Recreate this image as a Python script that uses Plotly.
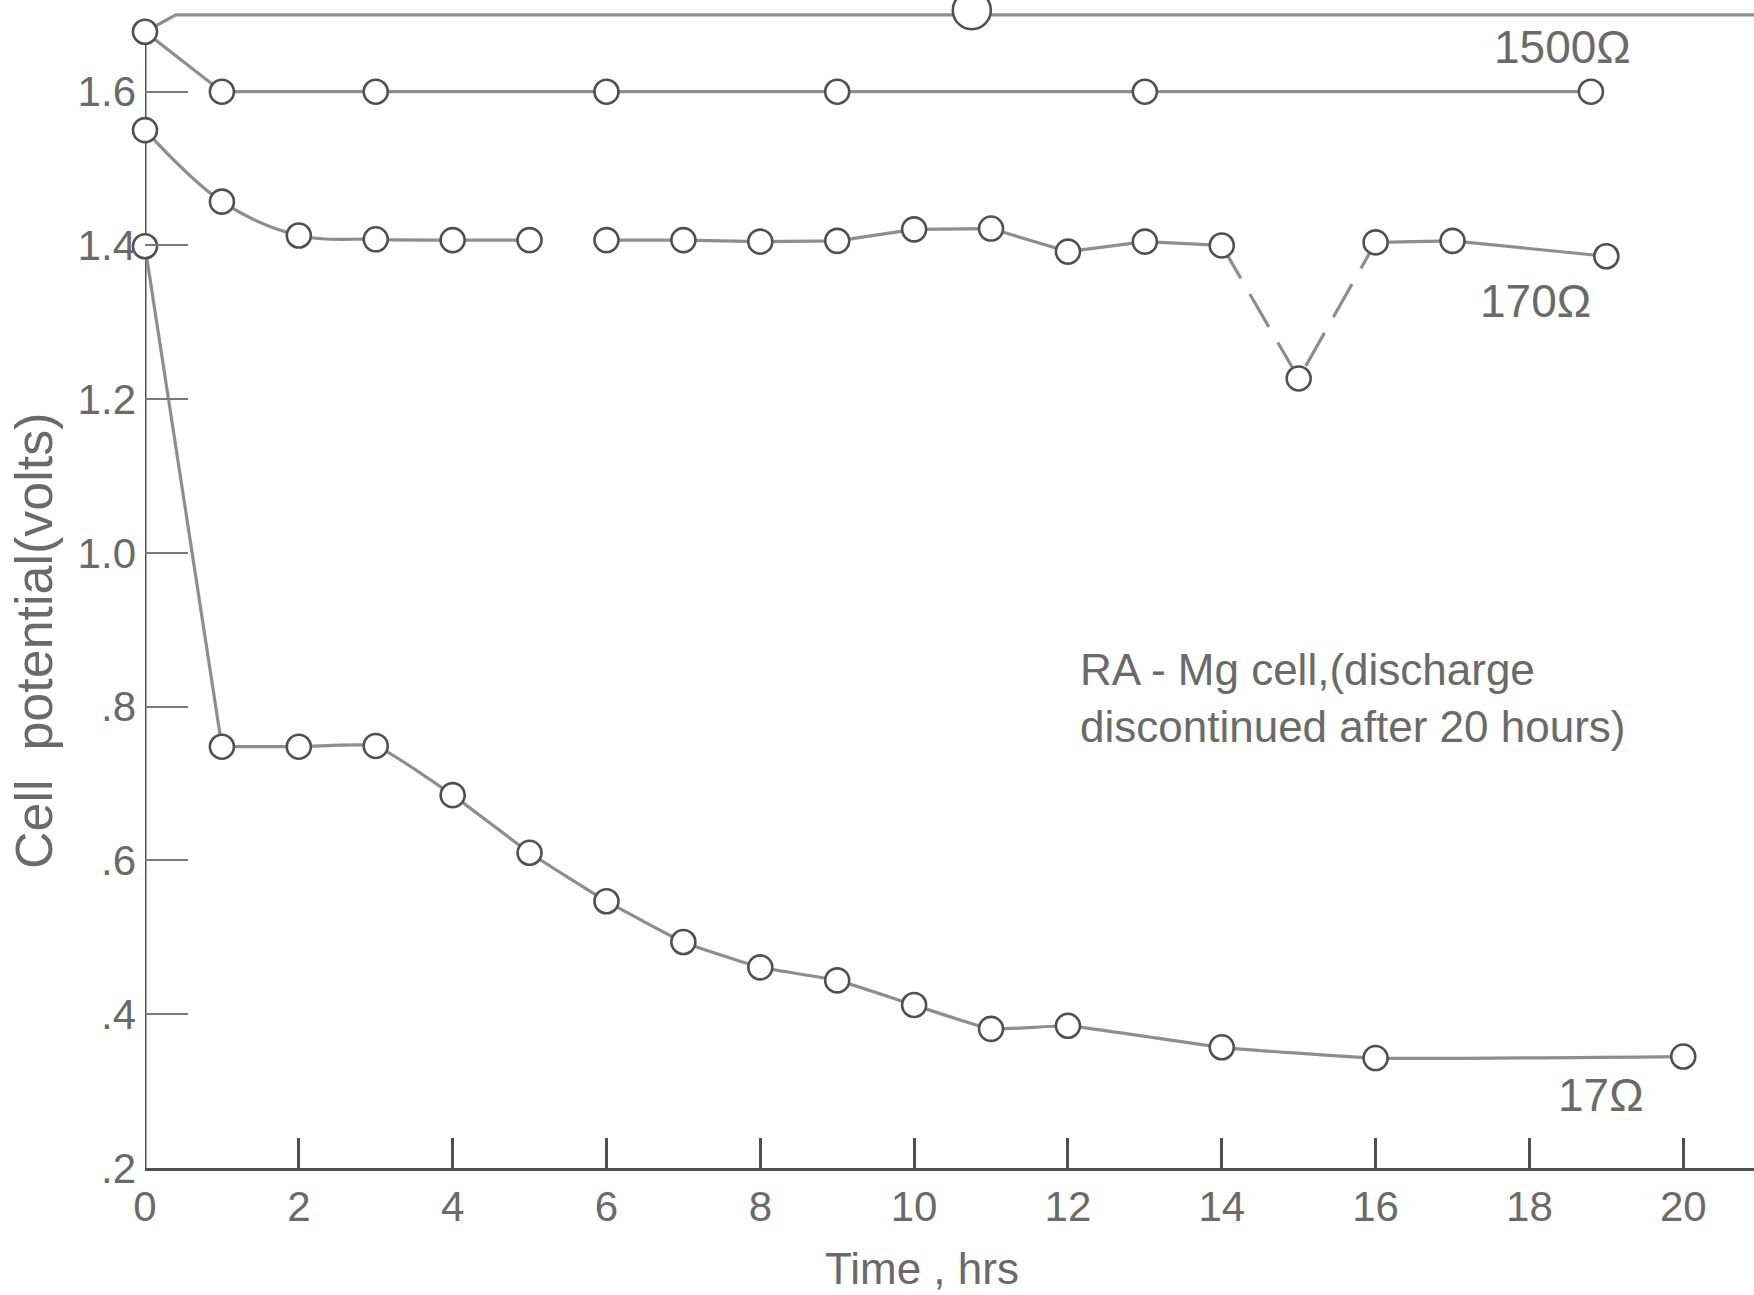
import plotly.graph_objects as go

# Discharge of an RA-Mg cell through three load resistances.
# Time in hours, cell potential in volts.
t_1500 = [0, 1, 3, 6, 9, 13, 18.8]
v_1500 = [1.678, 1.600, 1.600, 1.600, 1.600, 1.600, 1.600]

t_170 = [0, 1, 2, 3, 4, 5, 6, 7, 8, 9, 10, 11, 12, 13, 14, 15, 16, 17, 19]
v_170 = [1.550, 1.457, 1.413, 1.408, 1.407, 1.407, 1.407, 1.407, 1.405, 1.406,
         1.421, 1.422, 1.392, 1.405, 1.400, 1.227, 1.404, 1.406, 1.386]

t_17 = [0, 1, 2, 3, 4, 5, 6, 7, 8, 9, 10, 11, 12, 14, 16, 20]
v_17 = [1.399, 0.748, 0.748, 0.749, 0.685, 0.610, 0.547, 0.494, 0.461, 0.444,
        0.412, 0.381, 0.385, 0.357, 0.343, 0.345]

# trace running along the top edge, with its single plotted point
t_top = [0, 0.4, 21]
v_top = [1.678, 1.700, 1.700]
t_top_pt = [10.75]
v_top_pt = [1.706]

x_ticks = [0, 2, 4, 6, 8, 10, 12, 14, 16, 18, 20]
x_tick_text = ["0", "2", "4", "6", "8", "10", "12", "14", "16", "18", "20"]
y_ticks = [0.2, 0.4, 0.6, 0.8, 1.0, 1.2, 1.4, 1.6]
y_tick_text = [".2", ".4", ".6", ".8", "1.0", "1.2", "1.4", "1.6"]

FONT = "Liberation Sans, Arial, sans-serif"
TEXT = "#6a6a6a"
LINE = "#8e8e8e"
EDGE = "#505050"
X_MAX = 20.92
Y_MAX = 1.7193

fig = go.Figure()


def line(xs, ys, shape="linear", smoothing=1.0, dash="solid"):
    fig.add_trace(go.Scatter(
        x=xs, y=ys, mode="lines",
        line=dict(color=LINE, width=3.2, shape=shape, smoothing=smoothing, dash=dash),
        hoverinfo="skip", showlegend=False,
    ))


def points(xs, ys, size=24):
    fig.add_trace(go.Scatter(
        x=xs, y=ys, mode="markers", cliponaxis=False,
        marker=dict(symbol="circle", size=size, color="white",
                    line=dict(color=EDGE, width=2.6)),
        showlegend=False,
    ))


# top edge trace
line(t_top, v_top)
points(t_top_pt, v_top_pt, size=38)

# 1500 ohm
line(t_1500, v_1500)
points(t_1500, v_1500)

# 170 ohm: no line between 5 and 6 h, dashed through the dip at 15 h
line(t_170[0:6], v_170[0:6], shape="spline", smoothing=1.0)
line(t_170[6:15], v_170[6:15])
line(t_170[14:17], v_170[14:17], dash="38px,18px")
line(t_170[16:], v_170[16:])
points(t_170, v_170)

# 17 ohm
line(t_17[0:2], v_17[0:2])
line(t_17[1:], v_17[1:], shape="spline", smoothing=0.4)
points(t_17, v_17)

# vertical axis line, from the baseline up to the first 1500 ohm reading
fig.add_shape(type="line", xref="x", yref="y", x0=0, x1=0,
              y0=y_ticks[0], y1=v_1500[0],
              line=dict(color=EDGE, width=3), layer="below")

# curve labels
for txt, lx, ly in [("1500\u03a9", 18.43, 1.658),
                    ("170\u03a9", 18.08, 1.328),
                    ("17\u03a9", 18.93, 0.2945)]:
    fig.add_annotation(x=lx, y=ly, text=txt, showarrow=False,
                       xanchor="center", yanchor="middle",
                       font=dict(family=FONT, size=46, color=TEXT))

fig.add_annotation(
    x=12.13, y=0.812, xanchor="left", yanchor="middle", align="left",
    text="RA - Mg cell,(discharge<br>discontinued after 20 hours)",
    showarrow=False, font=dict(family=FONT, size=44, color=TEXT),
)

# axis titles
fig.add_annotation(x=10.1, y=-0.086, xref="x", yref="paper",
                   text="Time , hrs", showarrow=False,
                   xanchor="center", yanchor="middle",
                   font=dict(family=FONT, size=44, color=TEXT))
fig.add_annotation(x=-0.069, y=0.452, xref="paper", yref="paper",
                   text="Cell\u00a0 potential(volts)", textangle=-90,
                   showarrow=False, xanchor="center", yanchor="middle",
                   font=dict(family=FONT, size=52, color=TEXT))

fig.update_layout(
    width=1754, height=1295,
    margin=dict(l=145, r=0, t=0, b=127),
    paper_bgcolor="white", plot_bgcolor="white",
    showlegend=False,
    xaxis=dict(
        range=[0, X_MAX], showgrid=False, zeroline=False,
        showline=True, linecolor=EDGE, linewidth=3,
        tickmode="array", tickvals=x_ticks, ticktext=x_tick_text,
        ticks="inside", ticklen=30, tickwidth=3, tickcolor=EDGE,
        ticklabelstandoff=0,
        tickfont=dict(family=FONT, size=42, color=TEXT),
    ),
    yaxis=dict(
        range=[y_ticks[0], Y_MAX], showgrid=False, zeroline=False,
        showline=False,
        tickmode="array", tickvals=y_ticks, ticktext=y_tick_text,
        ticks="inside", ticklen=43, tickwidth=2.2, tickcolor="#7a7a7a",
        ticklabelstandoff=8,
        tickfont=dict(family=FONT, size=42, color=TEXT),
    ),
)

fig.write_html("out.html")
